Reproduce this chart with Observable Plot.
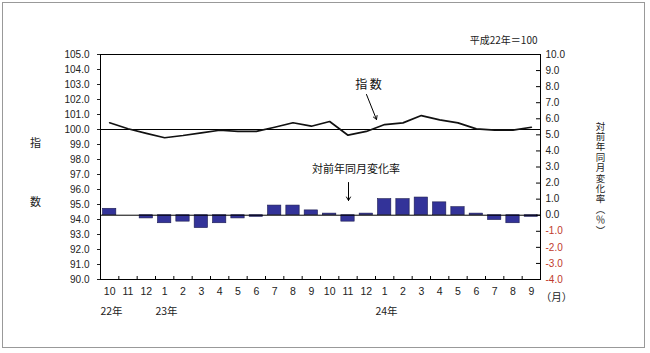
<!DOCTYPE html>
<html>
<head>
<meta charset="utf-8">
<script src="https://cdn.jsdelivr.net/npm/d3@7"></script>
<script src="https://cdn.jsdelivr.net/npm/@observablehq/plot@0.6"></script>
<style>
  html, body { margin: 0; padding: 0; background: #fff; }
  #wrap { position: relative; width: 650px; height: 353px; }
  #border { position: absolute; left: 2px; top: 2px; width: 643px; height: 346px; border: 1px solid #999; pointer-events: none; box-sizing: border-box; }
</style>
</head>
<body>
<div id="wrap"><div id="border"></div></div>
<script>
// ---- data ----
const months = ["10","11","12","1","2","3","4","5","6","7","8","9","10","11","12","1","2","3","4","5","6","7","8","9"];
const yearLabels = ["22年","23年","24年"];
const yearPos = [0, 3, 15];
const indexValues = [100.45, 100.05, 99.74, 99.45, 99.6, 99.78, 99.95, 99.87, 99.87, 100.15, 100.45, 100.22,
                     100.53, 99.62, 99.87, 100.33, 100.44, 100.93, 100.64, 100.44, 100.04, 99.96, 99.96, 100.15];
const changeValues = [0.4, 0.0, -0.2, -0.5, -0.4, -0.8, -0.5, -0.2, -0.1, 0.6, 0.6, 0.3,
                      0.1, -0.4, 0.1, 1.0, 1.0, 1.1, 0.8, 0.5, 0.1, -0.3, -0.5, -0.1];
const leftTicks = d3.range(90, 105.001, 1);
const rightTicks = d3.range(-4, 10.001, 1);
const leftDomain = [90, 105];
const rightDomain = [-4, 10];
const baseLabel = "平成22年＝100";
const leftTitle = ["指", "数"];
const rightTitle = "対前年同月変化率︵％︶";
const annIndex = "指 数";
const annChange = "対前年同月変化率";

// map right-axis values onto the left scale
const toL = v => leftDomain[0] + (v - rightDomain[0]) * (leftDomain[1] - leftDomain[0]) / (rightDomain[1] - rightDomain[0]);
const fromL = y => rightDomain[0] + (y - leftDomain[0]) * (rightDomain[1] - rightDomain[0]) / (leftDomain[1] - leftDomain[0]);
const fmt1 = x => (Math.round(x * 10) / 10 + 0).toFixed(1);

const W = 650, H = 353, mL = 100, mR = 110, mT = 54, mB = 74;
const pxX = (W - mL - mR) / months.length; // px per x unit
const pxY = (H - mT - mB) / (leftDomain[1] - leftDomain[0]);
const X = px => (px - mL) / pxX;           // pixel -> x data
const Y = py => leftDomain[1] - (py - mT) / pxY; // pixel -> y data

const jp = "Noto Sans CJK JP";
const idx = d3.range(months.length);
const rightChars = Array.from(rightTitle);

const chart = Plot.plot({
  width: W, height: H,
  marginLeft: mL, marginRight: mR, marginTop: mT, marginBottom: mB,
  style: { fontFamily: "'Liberation Sans', Arial, 'Noto Sans CJK JP'", fontSize: "10px", color: "#222", background: "transparent" },
  x: { type: "linear", domain: [0, months.length], axis: null },
  y: { domain: leftDomain, axis: null },
  marks: [
    Plot.rect(idx, {
      x1: i => i, x2: i => i + 1,
      y1: () => toL(0), y2: i => toL(changeValues[i]),
      fill: "#333399", stroke: "#1c1c50", strokeWidth: 0.6,
      insetLeft: 2.5, insetRight: 2.5
    }),
    Plot.ruleY([100], { stroke: "#000", strokeWidth: 1 }),
    Plot.ruleY([toL(0)], { stroke: "#000", strokeWidth: 1 }),
    Plot.line(idx, { x: i => i + 0.5, y: i => indexValues[i], stroke: "#111", strokeWidth: 1.7 }),
    Plot.frame({ stroke: "#000" }),
    // left axis
    Plot.axisY(leftTicks, { anchor: "left", tickSize: 3, tickPadding: 8, tickFormat: d => d.toFixed(1), fontSize: 10 }),
    // right axis (labels)
    Plot.axisY(rightTicks.filter(v => v >= 0).map(toL), { anchor: "right", tickSize: 0, tickPadding: 5, tickFormat: d => fmt1(fromL(d)), fontSize: 10 }),
    Plot.axisY(rightTicks.filter(v => v < 0).map(toL), { anchor: "right", tickSize: 0, tickPadding: 5, tickFormat: d => fmt1(fromL(d)), fontSize: 10, color: "#c0392b" }),
    // right axis inward ticks
    Plot.ruleY(rightTicks.map(toL), { x1: months.length - 4 / pxX, x2: months.length, stroke: "#000" }),
    // bottom axis inward ticks
    Plot.ruleX(d3.range(1, months.length), { y1: leftDomain[0], y2: leftDomain[0] + 3 / pxY, stroke: "#000" }),
    // month labels
    Plot.axisX(idx.map(i => i + 0.5), { anchor: "bottom", tickSize: 0, tickPadding: 8, tickFormat: d => months[Math.floor(d)], fontSize: 10.5 }),
    // year labels
    Plot.text(yearLabels, { x: (d, i) => yearPos[i] + 0.6, y: () => Y(311), fontFamily: jp, fontSize: 10.5, fill: "#222" }),
    Plot.text(["（月）"], { x: () => X(556), y: () => Y(297), fontFamily: jp, fontSize: 10.5, fill: "#222" }),
    // titles
    Plot.text(leftTitle, { x: () => X(35), y: (d, i) => Y([143, 202][i]), fontFamily: jp, fontSize: 11, fill: "#222" }),
    Plot.text(rightChars, { x: () => X(600), y: (d, i) => Y(126 + i * 10.4), fontFamily: jp, fontSize: 9.5, fill: "#222" }),
    Plot.text([baseLabel], { x: () => X(537), y: () => Y(40), textAnchor: "end", fontFamily: jp, fontSize: 10, fill: "#222" }),
    // annotations
    Plot.text([annIndex], { x: () => X(368), y: () => Y(85), fontFamily: jp, fontSize: 12, fill: "#111" }),
    Plot.arrow([0], { x1: () => X(366), y1: () => Y(94), x2: () => X(376), y2: () => Y(119), stroke: "#000", strokeWidth: 1, headLength: 6 }),
    Plot.text([annChange], { x: () => X(355.5), y: () => Y(169), fontFamily: jp, fontSize: 11, fill: "#111" }),
    Plot.arrow([0], { x1: () => X(348), y1: () => Y(182), x2: () => X(348), y2: () => Y(200), stroke: "#000", strokeWidth: 1, headLength: 6 })
  ]
});
document.getElementById("wrap").prepend(chart);
</script>
</body>
</html>
